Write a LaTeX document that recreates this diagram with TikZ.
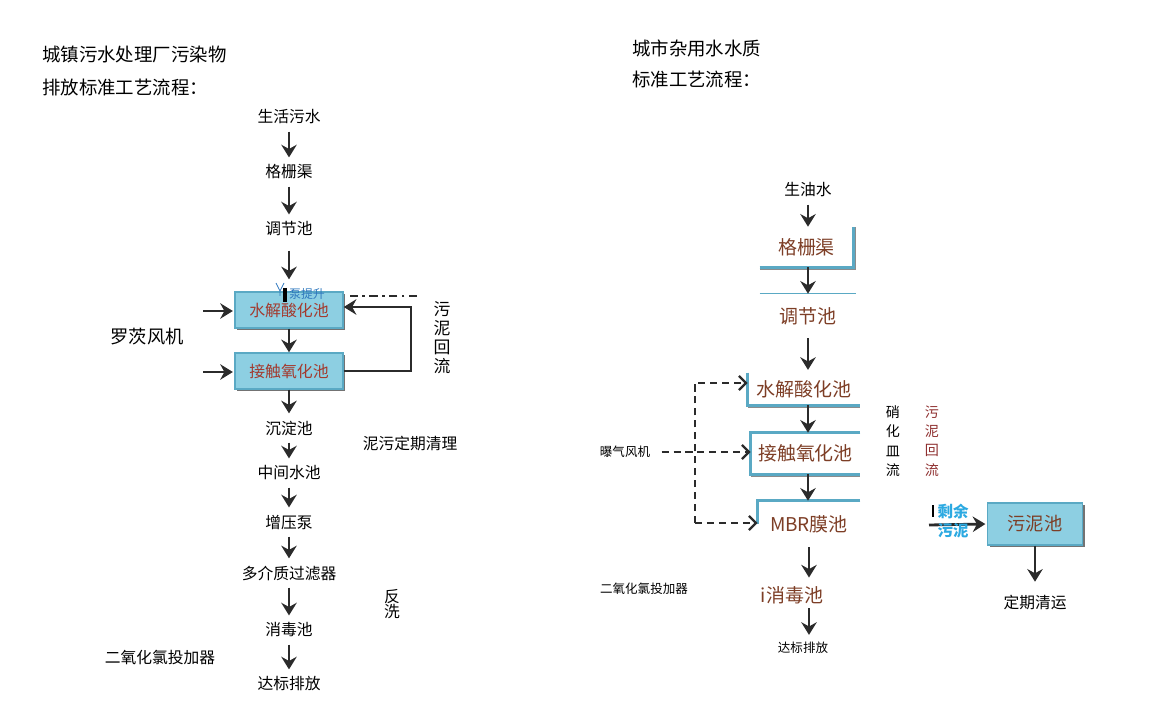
\documentclass[tikz,border=0pt]{standalone}
\usepackage{fontspec}
\setmainfont{Noto Sans CJK SC}
\usetikzlibrary{arrows.meta,shadows}
\definecolor{boxfill}{HTML}{8DCFE2}
\definecolor{boxedge}{HTML}{5AA9C4}
\definecolor{boxtext}{HTML}{A33A2E}
\definecolor{rtext}{HTML}{7D3E26}
\definecolor{pumpblue}{HTML}{2F78BE}
\definecolor{sludgeblue}{HTML}{2BA9E1}
\definecolor{arrowgray}{HTML}{2B2B2B}
\definecolor{loopred}{HTML}{8E2F2F}
\newcommand{\fsz}[2]{\fontsize{#1}{#2}\selectfont}

\tikzset{lbl/.style={inner sep=2pt,font=\fsz{11.2pt}{13pt}}}
\tikzset{title/.style={anchor=west,inner sep=0pt,font=\fsz{13.1pt}{16pt}}}
\tikzset{tank/.style={draw=boxedge,line width=1pt,fill=boxfill,text=boxtext,
                      drop shadow={shadow xshift=1.5pt,shadow yshift=-1.5pt,fill=black!55,opacity=1},
                      minimum width=2.7cm,minimum height=0.9cm,font=\fsz{11.3pt}{13pt}}}
\tikzset{rtank/.style={text=rtext,inner sep=0pt,font=\fsz{13.5pt}{16pt}}}
\tikzset{flow/.style={draw=arrowgray,line width=2pt,
                      -{Stealth[length=9pt,width=11pt,inset=3pt]},shorten <=3pt,shorten >=3pt}}
\tikzset{air/.style={draw=arrowgray,line width=1.7pt,dash pattern=on 5pt off 3.5pt,
                     -{Straight Barb[length=5pt,width=10pt]}}}
\tikzset{edge/.style={draw=boxedge,line width=1.8pt}}
\tikzset{edgeshade/.style={draw=black!45,line width=1pt}}
\tikzset{vtext/.style={align=center,inner sep=0pt,font=\fsz{10pt}{13.8pt}}}

\begin{document}
\begin{tikzpicture}[x=0.025cm,y=-0.025cm]
        \useasboundingbox (0,0) rectangle (1160,722);
        % Titles
        \node[title] (tl1) at (42,55) {城镇污水处理厂污染物};
        \node[title] (tl2) at (42,88) {排放标准工艺流程：};
        \node[title] (tr1) at (632,48) {城市杂用水水质};
        \node[title] (tr2) at (632,80) {标准工艺流程：};
        % Left line
        \foreach \t/\y [count=\i] in {生活污水/117,格栅渠/172,调节池/229}{%
              \node[lbl] (p\i) at (289,\y) {\t};
            }
        \node[tank] (hyd) at (289,310) {水解酸化池};
        \node[tank] (oxi) at (289,371) {接触氧化池};
        \foreach \t/\y [count=\i from 4] in {沉淀池/428,中间水池/473,增压泵/522,多介质过滤器/573,消毒池/630,达标排放/684}{%
              \node[lbl] (p\i) at (289,\y) {\t};
            }
        \draw[flow] (p1) -- (p2);
        \draw[flow] (p2) -- (p3);
        \draw[flow,shorten <=8pt,shorten >=8.5pt] (p3) -- (hyd);
        \draw[flow,shorten <=0pt,shorten >=0pt] (hyd) -- (oxi);
        \draw[flow,shorten <=0pt] (oxi) -- (p4);
        \foreach \a/\b in {4/5,5/6,6/7,7/8,8/9}{%
              \draw[flow] (p\a) -- (p\b);
            }
        % Pump
        \node[inner sep=0pt,font=\fsz{8.5pt}{10pt},text=pumpblue] (pump) at (307,294) {泵提升};
        \draw[pumpblue,line width=0.6pt] (276,283) -- (280,291) -- (284,283) (280,291) -- (280,296);
        \draw[line width=2.2pt] (285,288) -- (285,302);
        % Blowers
        \node[lbl,font=\fsz{13pt}{15pt}] (roots) at (147,337) {罗茨风机};
        \coordinate (in1) at (203,311);
        \coordinate (in2) at (203,372);
        \draw[flow,shorten <=0pt,shorten >=1pt] (in1) -- (in1 -| hyd.west);
        \draw[flow,shorten <=0pt,shorten >=1pt] (in2) -- (in2 -| oxi.west);
        % Return
        \coordinate (rt) at (411,307);
        \coordinate (dd) at (417,296);
        \draw[flow,shorten <=0pt,shorten >=0pt] (oxi.east) -| (rt) -- (rt -| hyd.east);
        \draw[arrowgray,line width=1.5pt,dash pattern=on 6pt off 3pt on 2pt off 3pt]
              (dd) -- ([xshift=2pt]dd -| hyd.east);
        \node[vtext,font=\fsz{12pt}{13.5pt}] (ret) at (442,338) {污\\泥\\回\\流};
        \node[lbl] (clean) at (410,443) {泥污定期清理};
        \node[vtext,font=\fsz{11.2pt}{10.8pt}] (bw) at (392,604) {反\\洗};
        \node[lbl] (clo) at (160,657) {二氧化氯投加器};

        % Right line
        \coordinate (col) at (808,0);
        \node[lbl] (q1) at (808,190) {生油水};
        \node[rtank,minimum width=2.325cm,minimum height=1cm] (q2) at (806.5,247) {格栅渠};
        \node[rtank,minimum width=2.4cm,minimum height=1.1cm] (q3) at (808,316) {调节池};
        \node[rtank,minimum width=2.8cm,minimum height=0.8cm] (q4) at (804,389) {水解酸化池};
        \node[rtank,minimum width=2.725cm,minimum height=1.025cm] (q5) at (805.5,453.5) {接触氧化池};
        \node[rtank,minimum width=2.55cm,minimum height=1.15cm] (q6) at (809,524) {MBR膜池};
        \node[rtank] (q7) at (792,595) {i消毒池};
        \node[lbl,font=\fsz{8.9pt}{10pt}] (q8) at (803,648) {达标排放};
        % Tank walls
        \draw[edgeshade] ([yshift=-1.2pt]q2.south west) -- ([xshift=1.2pt,yshift=-1.2pt]q2.south east)
              -- ([xshift=1.2pt]q2.north east);
        \draw[edge] (q2.south west) -- (q2.south east) -- (q2.north east);
        \draw[edge,line width=1pt] (q3.north west) -- (q3.north east);
        \draw[edgeshade] ([yshift=-1.2pt]q4.south west) -- ([yshift=-1.2pt]q4.south east);
        \draw[edge] (q4.north west) -- (q4.south west) -- (q4.south east);
        \draw[edgeshade] ([yshift=-1.2pt]q5.south west) -- ([yshift=-1.2pt]q5.south east);
        \draw[edge] (q5.north east) -- (q5.north west) -- (q5.south west) -- (q5.south east);
        \draw[edge] (q6.north east) -- (q6.north west) -- (q6.west);
        % Flow
        \draw[flow,shorten >=0pt] (col |- q1.south) -- (col |- q2.north);
        \draw[flow,shorten <=0pt,shorten >=0pt] (col |- q2.south) -- (col |- q3.north);
        \draw[flow,shorten <=0pt,shorten >=2pt] (col |- q3.south) -- (col |- q4.north);
        \draw[flow,shorten <=0pt,shorten >=0pt] (col |- q4.south) -- (col |- q5.north);
        \draw[flow,shorten <=0pt,shorten >=0pt] (col |- q5.south) -- (col |- q6.north);
        \draw[flow,shorten <=0pt,shorten >=6pt] (q6.south) -- (q6.south |- q7.north);
        \draw[flow] (q6.south |- q7.south) -- (q6.south |- q8.north);
        % Aeration
        \node[lbl,font=\fsz{8.9pt}{10pt}] (fan) at (625,452) {曝气风机};
        \coordinate (atop) at (695,383);
        \coordinate (abot) at (695,523);
        \draw[air,shorten <=6pt] (fan.east) -- (fan.east -| q5.west);
        \draw[air] (abot) -- (atop) -- (atop -| q4.west);
        \draw[air] (abot) -- (abot -| q6.west);
        \node[vtext] (nit) at (893,441) {硝\\化\\皿\\流};
        \node[vtext,text=loopred] (rret) at (932,441) {污\\泥\\回\\流};
        \node[lbl,font=\fsz{8.9pt}{10pt}] (clo2) at (644,589) {二氧化氯投加器};
        % Sludge
        \node[tank,text=rtext,minimum width=2.375cm,minimum height=1.05cm,
              font=\fsz{13pt}{15pt}] (sp) at (1035,524) {污泥池};
        \coordinate (ex) at (929,525);
        \draw[flow,shorten <=0pt,shorten >=1pt] (ex) -- (sp.west);
        \draw[line width=2pt] (933,505) -- (933,517);
        \node[align=center,inner sep=0pt,text=sludgeblue,font=\bfseries\fsz{11pt}{13.5pt}] (exl) at (953,521) {剩余\\污泥};
        \node[lbl] (haul) at (1035,602) {定期清运};
        \draw[flow,shorten <=0pt,shorten >=7pt] (sp) -- (haul);
    \end{tikzpicture}
\end{document}
